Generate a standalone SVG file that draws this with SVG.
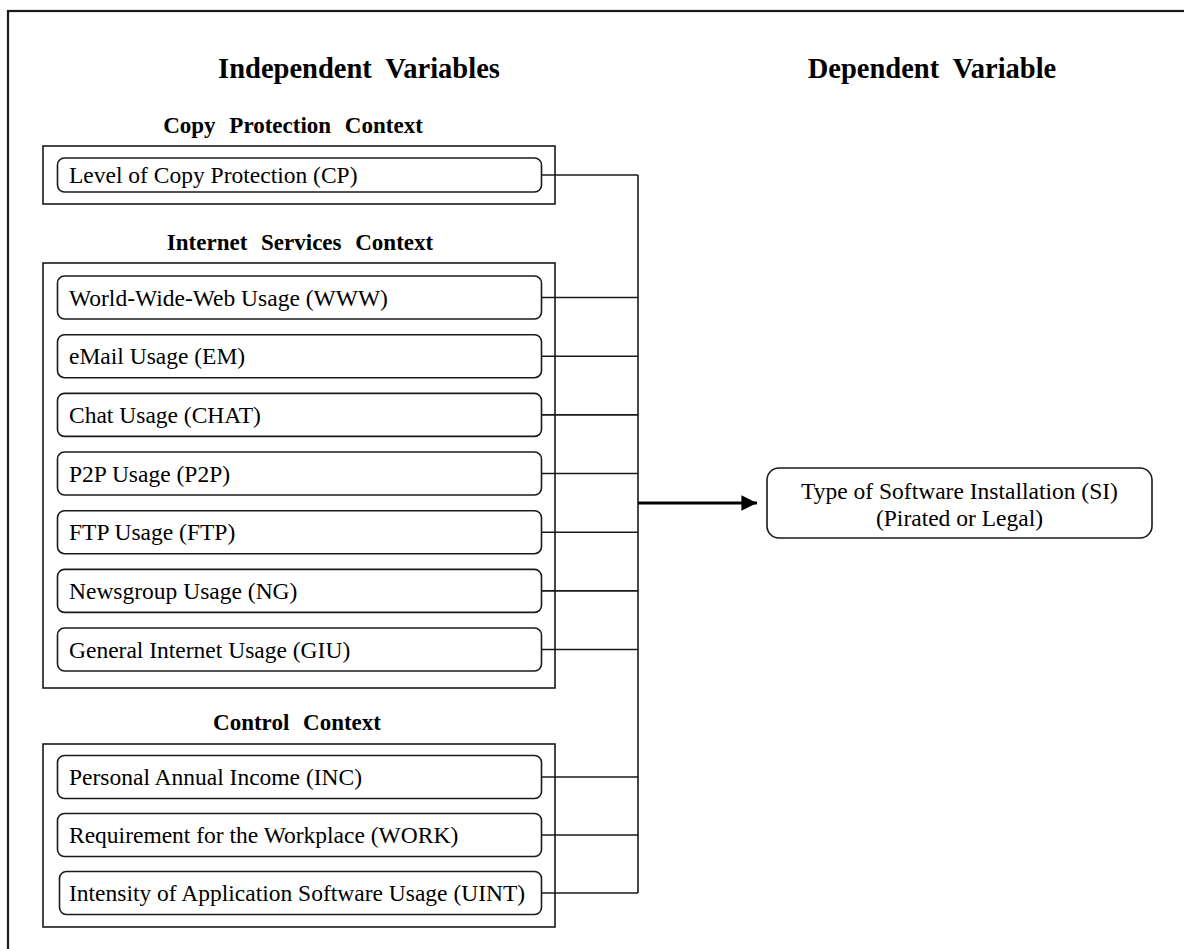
<svg xmlns="http://www.w3.org/2000/svg" width="1184" height="949" viewBox="0 0 1184 949">
<style>
  .frame{fill:none;stroke:#1a1a1a;stroke-width:2.2}
  .grp{fill:#fff;stroke:#1a1a1a;stroke-width:1.6}
  .node{fill:#fff;stroke:#1a1a1a;stroke-width:1.6}
  .head{font-family:"Liberation Serif","Times New Roman",serif;font-weight:bold;font-size:28.5px;fill:#000;text-anchor:middle;word-spacing:7px}
  .sub{font-family:"Liberation Serif","Times New Roman",serif;font-weight:bold;font-size:23px;fill:#000;text-anchor:middle;word-spacing:8px}
  .lbl{font-family:"Liberation Serif","Times New Roman",serif;font-size:23.5px;fill:#000}
  .ctr{text-anchor:middle}
  .conn{fill:none;stroke:#1a1a1a;stroke-width:1.6}
  .arr{fill:none;stroke:#000;stroke-width:3}
</style>
<defs>
  <marker id="ah" viewBox="0 0 10 10" refX="10" refY="5" markerWidth="5.2" markerHeight="5.4" markerUnits="strokeWidth" orient="auto">
    <path d="M0,0 L10,5 L0,10 z" fill="#000"/>
  </marker>
</defs>
<rect x="0" y="0" width="1184" height="949" fill="#fff"/>
<rect class="frame" x="8" y="11" width="1190" height="960"/>

<text class="head" x="359" y="78">Independent Variables</text>
<text class="head" x="932" y="78">Dependent Variable</text>

<g id="group-cp">
  <text class="sub" x="293" y="133">Copy Protection Context</text>
  <rect class="grp" x="43" y="146" width="512" height="58"/>
</g>
<g id="group-is">
  <text class="sub" x="300" y="250">Internet Services Context</text>
  <rect class="grp" x="43" y="263" width="512" height="425"/>
</g>
<g id="group-cc">
  <text class="sub" x="297" y="730">Control Context</text>
  <rect class="grp" x="43" y="744" width="512" height="183"/>
</g>

<g id="connectors">
  <path class="conn" d="M541.5,175 H638 M541.5,297.5 H638 M541.5,356.2 H638 M541.5,414.9 H638 M541.5,473.5 H638 M541.5,532.2 H638 M541.5,590.9 H638 M541.5,649.5 H638 M541.5,777 H638 M541.5,835 H638 M541.5,893 H638 M638,175 V893"/>
  <path class="arr" d="M638,503 H757" marker-end="url(#ah)"/>
</g>

<g id="node-cp"><rect class="node" x="57.5" y="158" width="484" height="34" rx="7"/><text class="lbl" x="69" y="183">Level of Copy Protection (CP)</text></g>
<g id="node-www"><rect class="node" x="57.5" y="276" width="484" height="43" rx="7"/><text class="lbl" x="69" y="305.5">World-Wide-Web Usage (WWW)</text></g>
<g id="node-em"><rect class="node" x="57.5" y="334.7" width="484" height="43" rx="7"/><text class="lbl" x="69" y="364.2">eMail Usage (EM)</text></g>
<g id="node-chat"><rect class="node" x="57.5" y="393.4" width="484" height="43" rx="7"/><text class="lbl" x="69" y="422.9">Chat Usage (CHAT)</text></g>
<g id="node-p2p"><rect class="node" x="57.5" y="452" width="484" height="43" rx="7"/><text class="lbl" x="69" y="481.5">P2P Usage (P2P)</text></g>
<g id="node-ftp"><rect class="node" x="57.5" y="510.7" width="484" height="43" rx="7"/><text class="lbl" x="69" y="540.2">FTP Usage (FTP)</text></g>
<g id="node-ng"><rect class="node" x="57.5" y="569.4" width="484" height="43" rx="7"/><text class="lbl" x="69" y="598.9">Newsgroup Usage (NG)</text></g>
<g id="node-giu"><rect class="node" x="57.5" y="628" width="484" height="43" rx="7"/><text class="lbl" x="69" y="657.5">General Internet Usage (GIU)</text></g>
<g id="node-inc"><rect class="node" x="57.5" y="755.5" width="484" height="43" rx="7"/><text class="lbl" x="69" y="785">Personal Annual Income (INC)</text></g>
<g id="node-work"><rect class="node" x="57.5" y="813.5" width="484" height="43" rx="7"/><text class="lbl" x="69" y="843">Requirement for the Workplace (WORK)</text></g>
<g id="node-uint"><rect class="node" x="59.5" y="871.5" width="482" height="43" rx="7"/><text class="lbl" x="69" y="901">Intensity of Application Software Usage (UINT)</text></g>

<g id="node-si">
  <rect class="node" x="767" y="468" width="385" height="70" rx="12"/>
  <text class="lbl ctr" x="959.5" y="499">Type of Software Installation (SI)</text>
  <text class="lbl ctr" x="959.5" y="526">(Pirated or Legal)</text>
</g>
</svg>
